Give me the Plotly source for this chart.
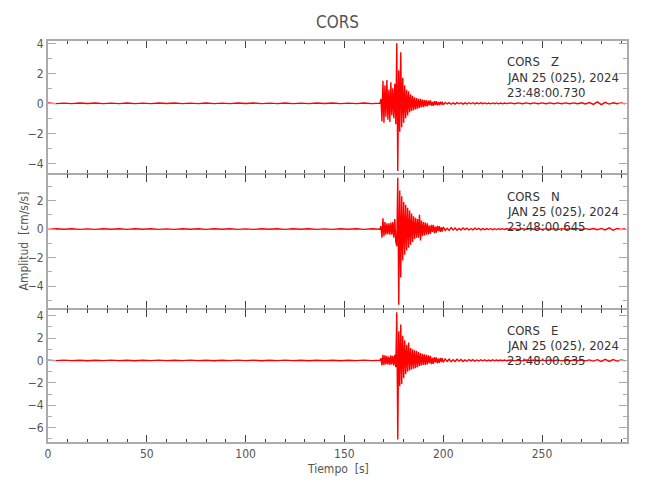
import plotly.graph_objects as go
from plotly.subplots import make_subplots

# ---------------- data ----------------
T_PRE = [0, 4, 8, 12, 16, 20, 24, 28, 32, 36, 40, 44, 48, 52, 56, 60, 64, 68, 72, 76,
         80, 84, 88, 92, 96, 100, 104, 108, 112, 116, 120, 124, 128, 132, 136, 140,
         144, 148, 152, 156, 160, 164, 168]
T_EVA = [168.5, 169, 169.5, 170, 170.5, 171, 171.5, 172, 172.5, 173, 173.5, 174, 174.5,
         175, 175.5, 176, 176.5, 177, 177.5, 178, 178.5, 179, 179.5, 180, 180.5, 181,
         181.5, 182, 182.5, 183, 183.5, 184, 184.5, 185, 185.5, 186, 186.5, 187, 187.5,
         188, 188.5, 189, 189.5, 190, 190.5, 191, 191.5, 192, 192.5, 193, 193.5, 194,
         194.5, 195, 195.5, 196, 196.5, 197, 197.5, 198, 198.5, 199, 199.5, 200]
T_EVB = [201, 202, 203, 204, 205, 206, 207, 208, 209, 210, 211, 212, 213, 214, 215, 216,
         217, 218, 219, 220, 221, 222, 223, 224, 225, 226, 227, 228, 229, 230, 231, 232]
T_TAIL = [234, 236, 238, 240, 242, 244, 246, 248, 250, 252, 254, 256, 258, 260, 262, 264,
          266, 268, 270, 272, 274, 276, 278, 280, 282, 284, 286, 288, 290, 292]

Z_PRE = [0.02, -0.02, 0.015, -0.02, 0.02, -0.015, 0.02, -0.02, 0.015, -0.02,
         0.02, -0.02, 0.015, -0.02, 0.02, -0.015, 0.02, -0.02, 0.015, -0.02,
         0.02, -0.02, 0.015, -0.02, 0.02, -0.015, 0.02, -0.02, 0.015, -0.02,
         0.02, -0.02, 0.015, -0.02, 0.02, -0.015, 0.02, -0.02, 0.015, -0.02,
         0.02, -0.02, 0.015]
Z_EVA = [0.3, -1.2, 1.5, -1.3, 1.2, -0.9, 1.55, -1.1, 0.9, -1.25, 1.4, -0.8, 1.0, -1.0, 1.3, -1.4,
         4.0, -4.5, 2.2, -1.9, 3.4, -1.6, 1.7, -1.3, 1.2, -1.0, 0.9, -0.8, 0.8, -0.6, 0.6, -0.5,
         0.5, -0.45, 0.4, -0.4, 0.35, -0.35, 0.3, -0.3, 0.3, -0.25, 0.25, -0.25, 0.22, -0.2, 0.2, -0.2,
         0.18, -0.12, 0.2, -0.16, 0.1, -0.17, 0.15, -0.09, 0.14, -0.13, 0.08, -0.12, 0.11, -0.07, 0.1, -0.1]
Z_EVB = [0.06, -0.04, 0.05, -0.06, 0.03, -0.05, 0.05, -0.03, 0.04, -0.05,
         0.03, -0.04, 0.04, -0.03, 0.04, -0.04, 0.03, -0.03, 0.04, -0.02,
         0.03, -0.03, 0.02, -0.03, 0.03, -0.02, 0.03, -0.03, 0.02, -0.03,
         0.02, -0.02]
Z_TAIL = [0.03, -0.03, 0.03, -0.03, 0.03, -0.03, 0.03, -0.03, 0.03, -0.03, 0.03, -0.03, 0.03,
          -0.03, 0.03, -0.03, 0.03, -0.03, 0.04, -0.04, 0.05, -0.07, 0.1, -0.09, 0.07, -0.05,
          0.04, -0.03, 0.03, -0.03]

N_PRE = [-0.02, 0.02, -0.015, 0.02, -0.02, 0.015, -0.02, 0.02, -0.015, 0.02,
         -0.02, 0.02, -0.015, 0.02, -0.02, 0.015, -0.02, 0.02, -0.015, 0.02,
         -0.02, 0.02, -0.015, 0.02, -0.02, 0.015, -0.02, 0.02, -0.015, 0.02,
         -0.02, 0.02, -0.015, 0.02, -0.02, 0.015, -0.02, 0.02, -0.015, 0.02,
         -0.02, 0.02, -0.015]
N_EVA = [0.2, -0.6, 0.75, -0.5, 0.5, -0.4, 0.4, -0.35, 0.4, -0.4, 0.45, -0.4, 0.5, -0.6, 0.7, -0.9,
         -1.2, 3.6, -5.3, 2.7, -3.4, 2.3, -2.2, 1.9, -1.8, 1.7, -1.5, 1.5, -1.3, 1.3, -1.1, 1.1,
         -0.9, 0.9, -0.7, 0.8, -0.6, 0.7, -0.6, 1.0, -0.8, 0.6, -0.5, 0.5, -0.45, 0.45, -0.4, 0.4,
         -0.38, 0.25, -0.34, 0.3, -0.2, 0.3, -0.28, 0.17, -0.25, 0.22, -0.14, 0.2, -0.2, 0.12, -0.17, 0.16]
N_EVB = [-0.1, 0.06, -0.09, 0.1, -0.06, 0.08, -0.08, 0.05, -0.06, 0.08,
         -0.04, 0.06, -0.06, 0.04, -0.05, 0.06, -0.03, 0.05, -0.05, 0.03,
         -0.04, 0.04, -0.03, 0.03, -0.04, 0.03, -0.03, 0.03, -0.02, 0.03,
         -0.03, 0.02]
N_TAIL = [-0.03, 0.03, -0.03, 0.03, -0.03, 0.03, -0.03, 0.03, -0.03, 0.03, -0.03, 0.03, -0.03,
          0.03, -0.03, 0.03, -0.03, 0.03, -0.03, 0.03, -0.03, 0.04, -0.04, 0.05, -0.06, 0.09,
          -0.08, 0.05, -0.03, 0.03]

E_PRE = [0.02, -0.02, 0.025, -0.02, 0.02, -0.025, 0.02, -0.02, 0.025, -0.02,
         0.02, -0.025, 0.02, -0.02, 0.025, -0.02, 0.02, -0.02, 0.025, -0.02,
         0.02, -0.025, 0.02, -0.02, 0.025, -0.02, 0.02, -0.025, 0.02, -0.02,
         0.025, -0.02, 0.02, -0.025, 0.02, -0.02, 0.02, -0.025, 0.02, -0.02,
         0.025, -0.02, 0.02]
E_EVA = [0.2, -0.45, 0.5, -0.4, 0.45, -0.35, 0.4, -0.35, 0.35, -0.4, 0.45, -0.35, 0.4, -0.45, 0.5, -0.6,
         4.3, -7.05, 2.6, -2.3, 3.2, -2.1, 2.2, -1.6, 1.8, -1.2, 1.4, -1.0, 1.6, -0.9, 1.1, -0.8,
         1.0, -0.75, 0.9, -0.7, 0.85, -0.6, 0.75, -0.5, 0.65, -0.45, 0.6, -0.4, 0.55, -0.4, 0.5, -0.35,
         0.45, -0.25, 0.4, -0.33, 0.22, -0.3, 0.3, -0.18, 0.28, -0.25, 0.15, -0.22, 0.22, -0.13, 0.2, -0.18]
E_EVB = [0.13, -0.08, 0.11, -0.12, 0.07, -0.1, 0.1, -0.05, 0.09, -0.09,
         0.05, -0.07, 0.08, -0.04, 0.07, -0.07, 0.04, -0.05, 0.06, -0.03,
         0.05, -0.05, 0.03, -0.04, 0.05, -0.03, 0.04, -0.03, 0.03, -0.03,
         0.03, -0.03]
E_TAIL = [0.04, -0.04, 0.03, -0.04, 0.04, -0.03, 0.04, -0.04, 0.03, -0.04, 0.04, -0.03, 0.04,
          -0.04, 0.03, -0.04, 0.04, -0.03, 0.04, -0.04, 0.05, -0.06, 0.07, -0.09, 0.1, -0.09,
          0.08, -0.06, 0.04, -0.04]

COMPONENTS = ["Z", "N", "E"]
START_TIMES = ["23:48:00.730", "23:48:00.645", "23:48:00.635"]
Y_RANGES = [[-4.73, 4.22], [-5.58, 3.84], [-7.37, 4.62]]
X_RANGE = [0, 293]
STATION = "CORS"
DATE_LABEL = "JAN 25 (025), 2024"

TIME = T_PRE + T_EVA + T_EVB + T_TAIL
SERIES = [Z_PRE + Z_EVA + Z_EVB + Z_TAIL,
          N_PRE + N_EVA + N_EVB + N_TAIL,
          E_PRE + E_EVA + E_EVB + E_TAIL]
for s in SERIES:
    assert len(s) == len(TIME), (len(s), len(TIME))

# ---------------- figure ----------------
FONT = "Liberation Sans Narrow, DejaVu Sans Condensed, Arial Narrow, sans-serif"
AXIS_GRAY = "#ababab"
TEXT_GRAY = "#555555"

# page body has an 8px offset; figure is sized to fit the 650x500 window
W, H = 642, 492
L, R, T, B = 40, 23, 32, 57
PLOT_W = W - L - R
PLOT_H = H - T - B

fig = make_subplots(rows=3, cols=1, shared_xaxes=True, vertical_spacing=0)

for i, vals in enumerate(SERIES):
    fig.add_trace(go.Scatter(x=TIME, y=vals, mode="lines",
                             line=dict(color="#ff0000", width=1.4),
                             showlegend=False, hoverinfo="skip"),
                  row=i + 1, col=1)
    fig.update_yaxes(range=Y_RANGES[i], dtick=2, tick0=0, automargin=False,
                     showline=True, linecolor=AXIS_GRAY, linewidth=2, mirror="ticks",
                     ticks="inside", ticklen=8, tickcolor=AXIS_GRAY, tickwidth=1,
                     minor=dict(dtick=1, ticks="inside", ticklen=4, tickcolor=AXIS_GRAY),
                     showgrid=False, zeroline=False,
                     tickfont=dict(family=FONT, size=12, color=TEXT_GRAY),
                     row=i + 1, col=1)
    fig.update_xaxes(range=X_RANGE, dtick=50, tick0=0, automargin=False,
                     showline=True, linecolor=AXIS_GRAY, linewidth=1, mirror="ticks",
                     ticks="inside", ticklen=8, tickcolor="#444444", tickwidth=1,
                     minor=dict(dtick=10, ticks="inside", ticklen=4, tickcolor="#444444"),
                     showgrid=False, zeroline=False,
                     tickfont=dict(family=FONT, size=12, color=TEXT_GRAY),
                     row=i + 1, col=1)

annotations = []
PANEL_H = PLOT_H / 3
for i, comp in enumerate(COMPONENTS):
    top_px = i * PANEL_H  # pixels below the top of the plot area
    lines = [f"{STATION}\u00a0\u00a0\u00a0{comp}", DATE_LABEL, START_TIMES[i]]
    for j, txt in enumerate(lines):
        y_px = top_px + 22 + 15 * j
        annotations.append(dict(
            xref="paper", yref="paper", x=(497 - L) / PLOT_W, y=1 - y_px / PLOT_H,
            xanchor="left", yanchor="middle", align="left", showarrow=False,
            text=txt, font=dict(family=FONT, size=13, color="#333333")))

annotations.append(dict(xref="paper", yref="paper", x=(15 - L) / PLOT_W, y=0.5,
                        xanchor="center", yanchor="middle", textangle=-90, showarrow=False,
                        text="Amplitud  [cm/s/s]",
                        font=dict(family=FONT, size=12, color=TEXT_GRAY)))
annotations.append(dict(xref="paper", yref="paper", x=0.5, y=-17 / PLOT_H,
                        xanchor="center", yanchor="top", showarrow=False,
                        text="Tiempo  [s]",
                        font=dict(family=FONT, size=12, color=TEXT_GRAY)))

shapes = [dict(type="line", xref="paper", yref="paper", x0=0, x1=1, y0=yy, y1=yy,
               line=dict(color=AXIS_GRAY, width=2), layer="above") for yy in (0, 1)]

fig.update_layout(
    width=W, height=H,
    margin=dict(l=L, r=R, t=T, b=B, autoexpand=False),
    paper_bgcolor="white", plot_bgcolor="white",
    title=dict(text=STATION, x=(L + PLOT_W / 2) / W, xanchor="center",
               y=1 - 14 / H, yanchor="middle",
               font=dict(family=FONT, size=17, color=TEXT_GRAY)),
    annotations=annotations,
    shapes=shapes,
)

fig.write_html("out.html")
